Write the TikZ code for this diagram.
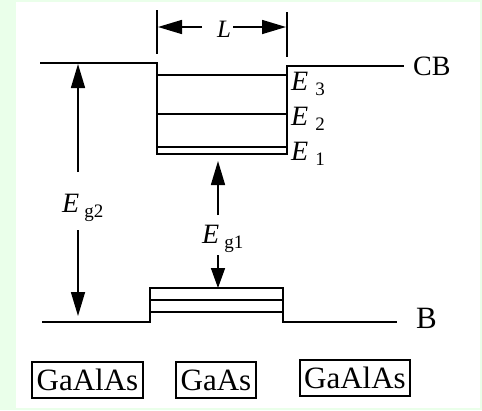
\documentclass[tikz,border=0pt]{standalone}
\usepackage{fontspec}
\setmainfont{Liberation Serif}
\usetikzlibrary{arrows.meta}
\definecolor{bggreen}{RGB}{234,255,234}
\newcommand\Elab[2]{\textit{E}\hspace{#2}\raisebox{-5pt}{\fontsize{19}{19}\selectfont #1}}
\begin{document}
\begin{tikzpicture}[x=1pt,y=-1pt,
  band/.style={line width=2pt},
  dimarrow/.style={line width=1.6pt,-{Triangle[length=24pt,width=14pt]}},
  lbl/.style={inner sep=0pt,font=\fontsize{28}{28}\selectfont},
  matbox/.style={draw,line width=1.1pt,inner sep=0pt,minimum height=36pt,font=\fontsize{31}{31}\selectfont}]
\fill[bggreen] (0,0) rectangle (482,410);
\fill[white] (16,2) rectangle (480,408);
\useasboundingbox (0,0) rectangle (482,410);
% conduction band well
\draw[band] (40,63) -- (157,63) -- (157,154) -- (287,154) -- (287,66) -- (404,66);
\draw[band] (157,75) -- (287,75);
\draw[band] (157,114) -- (287,114);
\draw[band] (157,147) -- (287,147);
% valence band
\draw[band] (42,322) -- (150,322) -- (150,288) -- (283,288) -- (283,322) -- (397,322);
\draw[band] (150,300) -- (283,300);
\draw[band] (150,312) -- (283,312);
% L dimension
\draw[line width=1.6pt] (157,10) -- (157,54);
\draw[line width=1.6pt] (287,12) -- (287,57);
\coordinate (Lleft) at (158,27);
\coordinate (Lright) at (286,27);
\node[lbl,anchor=base,font=\fontsize{25}{25}\selectfont] (L) at (224,37) {\textit{L}};
\draw[dimarrow] (202,27) -- (Lleft);
\draw[dimarrow] (233,27) -- (Lright);
% labels
\node[lbl,anchor=base west] (CB) at (413,75) {CB};
\node[lbl,anchor=base west,font=\fontsize{31}{31}\selectfont] (B) at (416,328) {B};
\node[lbl,anchor=base west] (E3) at (291,90) {\Elab{3}{7pt}};
\node[lbl,anchor=base west] (E2) at (291,125) {\Elab{2}{7pt}};
\node[lbl,anchor=base west] (E1) at (291,160) {\Elab{1}{7pt}};
% Eg2
\node[lbl,anchor=base west] (Eg2) at (62,212) {\Elab{g2}{5pt}};
\coordinate (Eg2top) at (78,64);
\coordinate (Eg2bot) at (78,316);
\draw[dimarrow] (78,172) -- (Eg2top);
\draw[dimarrow] (78,230) -- (Eg2bot);
% Eg1
\node[lbl,anchor=base west] (Eg1) at (202,243) {\Elab{g1}{5pt}};
\coordinate (Eg1top) at (218,161);
\coordinate (Eg1bot) at (218,288);
\draw[dimarrow] (218,215) -- (Eg1top);
\draw[line width=1.6pt,-{Triangle[length=20pt,width=14pt]}] (218,255) -- (Eg1bot);
% material boxes
\node[matbox,minimum width=111pt] (m1) at (87.5,380) {GaAlAs};
\node[matbox,minimum width=80pt] (m2) at (216,380) {GaAs};
\node[matbox,minimum width=110pt] (m3) at (355,378) {GaAlAs};
\end{tikzpicture}
\end{document}
